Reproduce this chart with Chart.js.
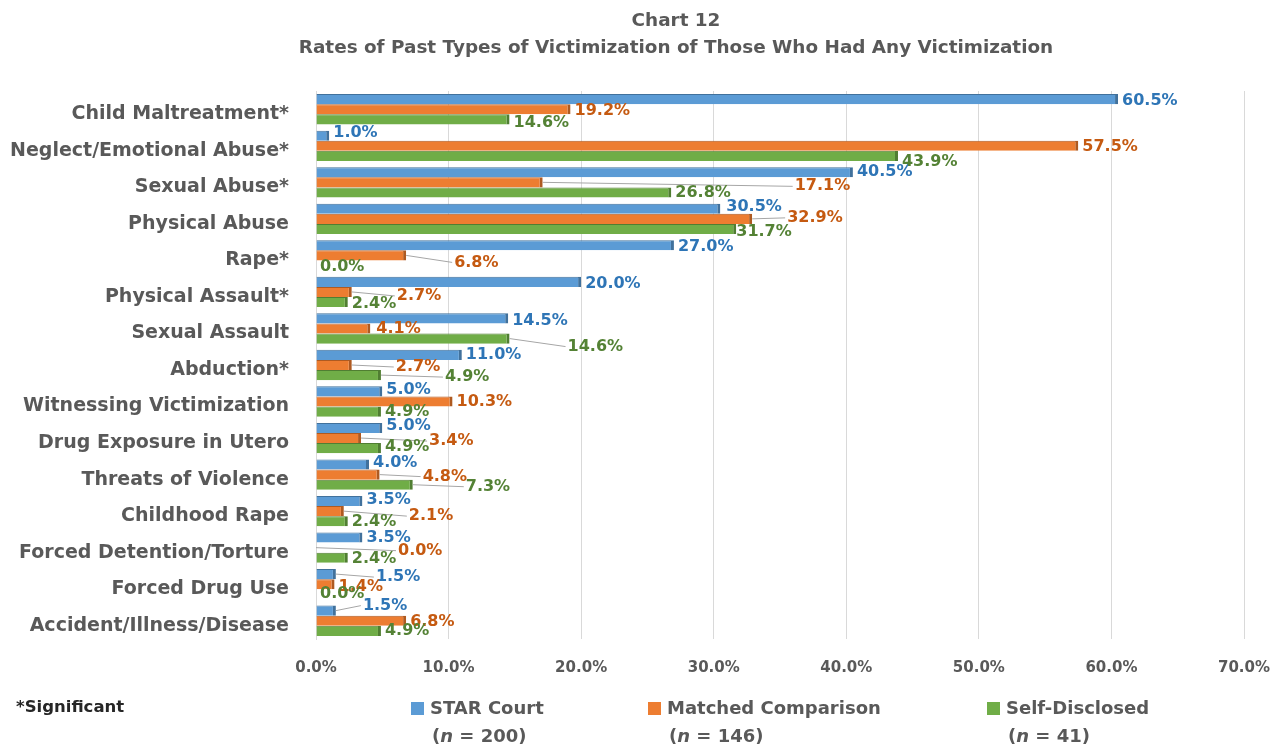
<!DOCTYPE html>
<html>
<head>
<meta charset="utf-8">
<script src="https://cdn.jsdelivr.net/npm/chart.js@4.4.0/dist/chart.umd.min.js"></script>
<style>
  html, body { margin: 0; padding: 0; background: #fff; }
  #wrap { position: relative; width: 1276px; height: 747px; }
  #c { position: absolute; left: 0; top: 0; }
  .txt { position: absolute; font-family: "DejaVu Sans", sans-serif; font-weight: bold; color: #595959; white-space: nowrap; }
  .ttl { position: absolute; left: 176px; width: 1000px; text-align: center; font-family: "DejaVu Sans", sans-serif; font-weight: bold; color: #595959; white-space: nowrap; font-size: 18.4px; line-height: 27px; }
  .sw { position: absolute; width: 13px; height: 13px; }
</style>
</head>
<body>
<div id="wrap">
  <canvas id="c" width="1276" height="747"></canvas>
  <div id="title"></div>
  <div class="txt" style="left:16px; top:697px; font-size:16.5px; color:#262626;">*Significant</div>
  <div id="legend"></div>
</div>
<script>
const categories = [
  "Child Maltreatment*", "Neglect/Emotional Abuse*", "Sexual Abuse*", "Physical Abuse",
  "Rape*", "Physical Assault*", "Sexual Assault", "Abduction*", "Witnessing Victimization",
  "Drug Exposure in Utero", "Threats of Violence", "Childhood Rape",
  "Forced Detention/Torture", "Forced Drug Use", "Accident/Illness/Disease"
];
const starCourt = [60.5, 1.0, 40.5, 30.5, 27.0, 20.0, 14.5, 11.0, 5.0, 5.0, 4.0, 3.5, 3.5, 1.5, 1.5];
const matchedComparison = [19.2, 57.5, 17.1, 32.9, 6.8, 2.7, 4.1, 2.7, 10.3, 3.4, 4.8, 2.1, 0.0, 1.4, 6.8];
const selfDisclosed = [14.6, 43.9, 26.8, 31.7, 0.0, 2.4, 14.6, 4.9, 4.9, 4.9, 7.3, 2.4, 2.4, 0.0, 4.9];
const seriesNames = ["STAR Court", "Matched Comparison", "Self-Disclosed"];
const seriesN = ["200", "146", "41"];
const xTicks = [0, 10, 20, 30, 40, 50, 60, 70];
const titleLines = ["Chart 12", "Rates of Past Types of Victimization of Those Who Had Any Victimization"];

const fills = ["#5B9BD5", "#ED7D31", "#70AD47"];
const edges = ["#41719C", "#AE5A21", "#507E32"];
const labelColors = ["#2E75B6", "#C55A11", "#548235"];
const FONT = "'DejaVu Sans', sans-serif";

// label placement tweaks [dx, dy] relative to bar end / bar centre (annotation styling)
const labelShift = [
  [[0,2],[0,-3],[0,0],[2,-2],[0,2],[0,2],[0,2],[0,0],[0,-2],[0,-2],[0,-2],[0,-1],[0,0],[36,3],[23,-5]],
  [[0,2],[0,1],[248,4],[31,-1],[44,7],[41,4],[2,0],[40,2],[0,0],[64,3],[39,2],[61,5],[78,3],[0,3],[0,1]],
  [[0,3],[0,6],[0,0],[-4,3],[0,1],[0,2],[54,8],[60,2],[0,0],[0,-1],[49,2],[0,1],[0,1],[0,0],[0,0]]
];

const barLabels = {
  id: 'barLabels',
  afterDatasetsDraw(chart) {
    const ctx = chart.ctx;
    ctx.save();
    ctx.font = "bold 16px " + FONT;
    ctx.textBaseline = 'middle';
    ctx.textAlign = 'left';
    chart.data.datasets.forEach((ds, i) => {
      const meta = chart.getDatasetMeta(i);
      meta.data.forEach((el, j) => {
        const v = ds.data[j];
        const sh = (labelShift[i] && labelShift[i][j]) || [0, 1];
        const x0 = el.x, y0 = el.y;
        const tx = x0 + 4 + sh[0], ty = y0 + sh[1];
        if (sh[0] > 10) {
          ctx.strokeStyle = '#A6A6A6';
          ctx.lineWidth = 1;
          ctx.beginPath();
          ctx.moveTo(x0, y0);
          ctx.lineTo(tx - 2, ty);
          ctx.stroke();
        }
        ctx.fillStyle = labelColors[i];
        ctx.fillText(v.toFixed(1) + '%', tx, ty);
      });
    });
    ctx.restore();
  }
};

const seriesData = [starCourt, matchedComparison, selfDisclosed];
const datasets = seriesData.map((d, i) => ({
  label: seriesNames[i],
  data: d,
  backgroundColor: fills[i],
  borderColor: edges[i],
  borderWidth: { top: 1, right: 3, bottom: 0, left: 0 },
  borderSkipped: false,
  barPercentage: 1.0,
  categoryPercentage: 0.83
}));

new Chart(document.getElementById('c'), {
  type: 'bar',
  data: { labels: categories, datasets },
  options: {
    indexAxis: 'y',
    responsive: false,
    animation: false,
    layout: { padding: { left: 0, right: 32, top: 91, bottom: 48 } },
    plugins: {
      legend: { display: false },
      tooltip: { enabled: false },
      title: { display: false }
    },
    scales: {
      x: {
        min: 0, max: 70,
        afterBuildTicks(s) { s.ticks = xTicks.map(v => ({ value: v })); },
        afterFit(s) { s.height = 60; s.paddingLeft = 0; s.paddingRight = 0; },
        grid: { color: '#D9D9D9', drawTicks: false },
        border: { display: false },
        ticks: {
          padding: 20,
          color: '#595959',
          font: { family: FONT, size: 15, weight: 'bold' },
          callback: v => v.toFixed(1) + '%'
        }
      },
      y: {
        afterFit(s) { s.width = 316; },
        grid: { display: false },
        border: { display: true, color: '#D9D9D9' },
        ticks: {
          padding: 19,
          labelOffset: 5,
          color: '#595959',
          font: { family: FONT, size: 19, weight: 'bold' }
        }
      }
    }
  },
  plugins: [barLabels]
});

// title (HTML text)
const tt = document.getElementById('title');
titleLines.forEach((line, k) => {
  const d = document.createElement('div');
  d.className = 'ttl';
  d.style.top = (6 + 27 * k) + 'px';
  d.textContent = line;
  tt.appendChild(d);
});

// legend (HTML text)
const legendLeft = [411, 648, 987];
const lg = document.getElementById('legend');
seriesNames.forEach((name, i) => {
  const sw = document.createElement('div');
  sw.className = 'sw';
  sw.style.left = legendLeft[i] + 'px';
  sw.style.top = '702px';
  sw.style.background = fills[i];
  lg.appendChild(sw);
  const t = document.createElement('div');
  t.className = 'txt';
  t.style.left = (legendLeft[i] + 19) + 'px';
  t.style.top = '697px';
  t.style.fontSize = '18px';
  t.textContent = name;
  lg.appendChild(t);
  const n = document.createElement('div');
  n.className = 'txt';
  n.style.left = (legendLeft[i] + 21) + 'px';
  n.style.top = '725px';
  n.style.fontSize = '18px';
  n.innerHTML = '(<i>n</i> = ' + seriesN[i] + ')';
  lg.appendChild(n);
});
</script>
</body>
</html>
